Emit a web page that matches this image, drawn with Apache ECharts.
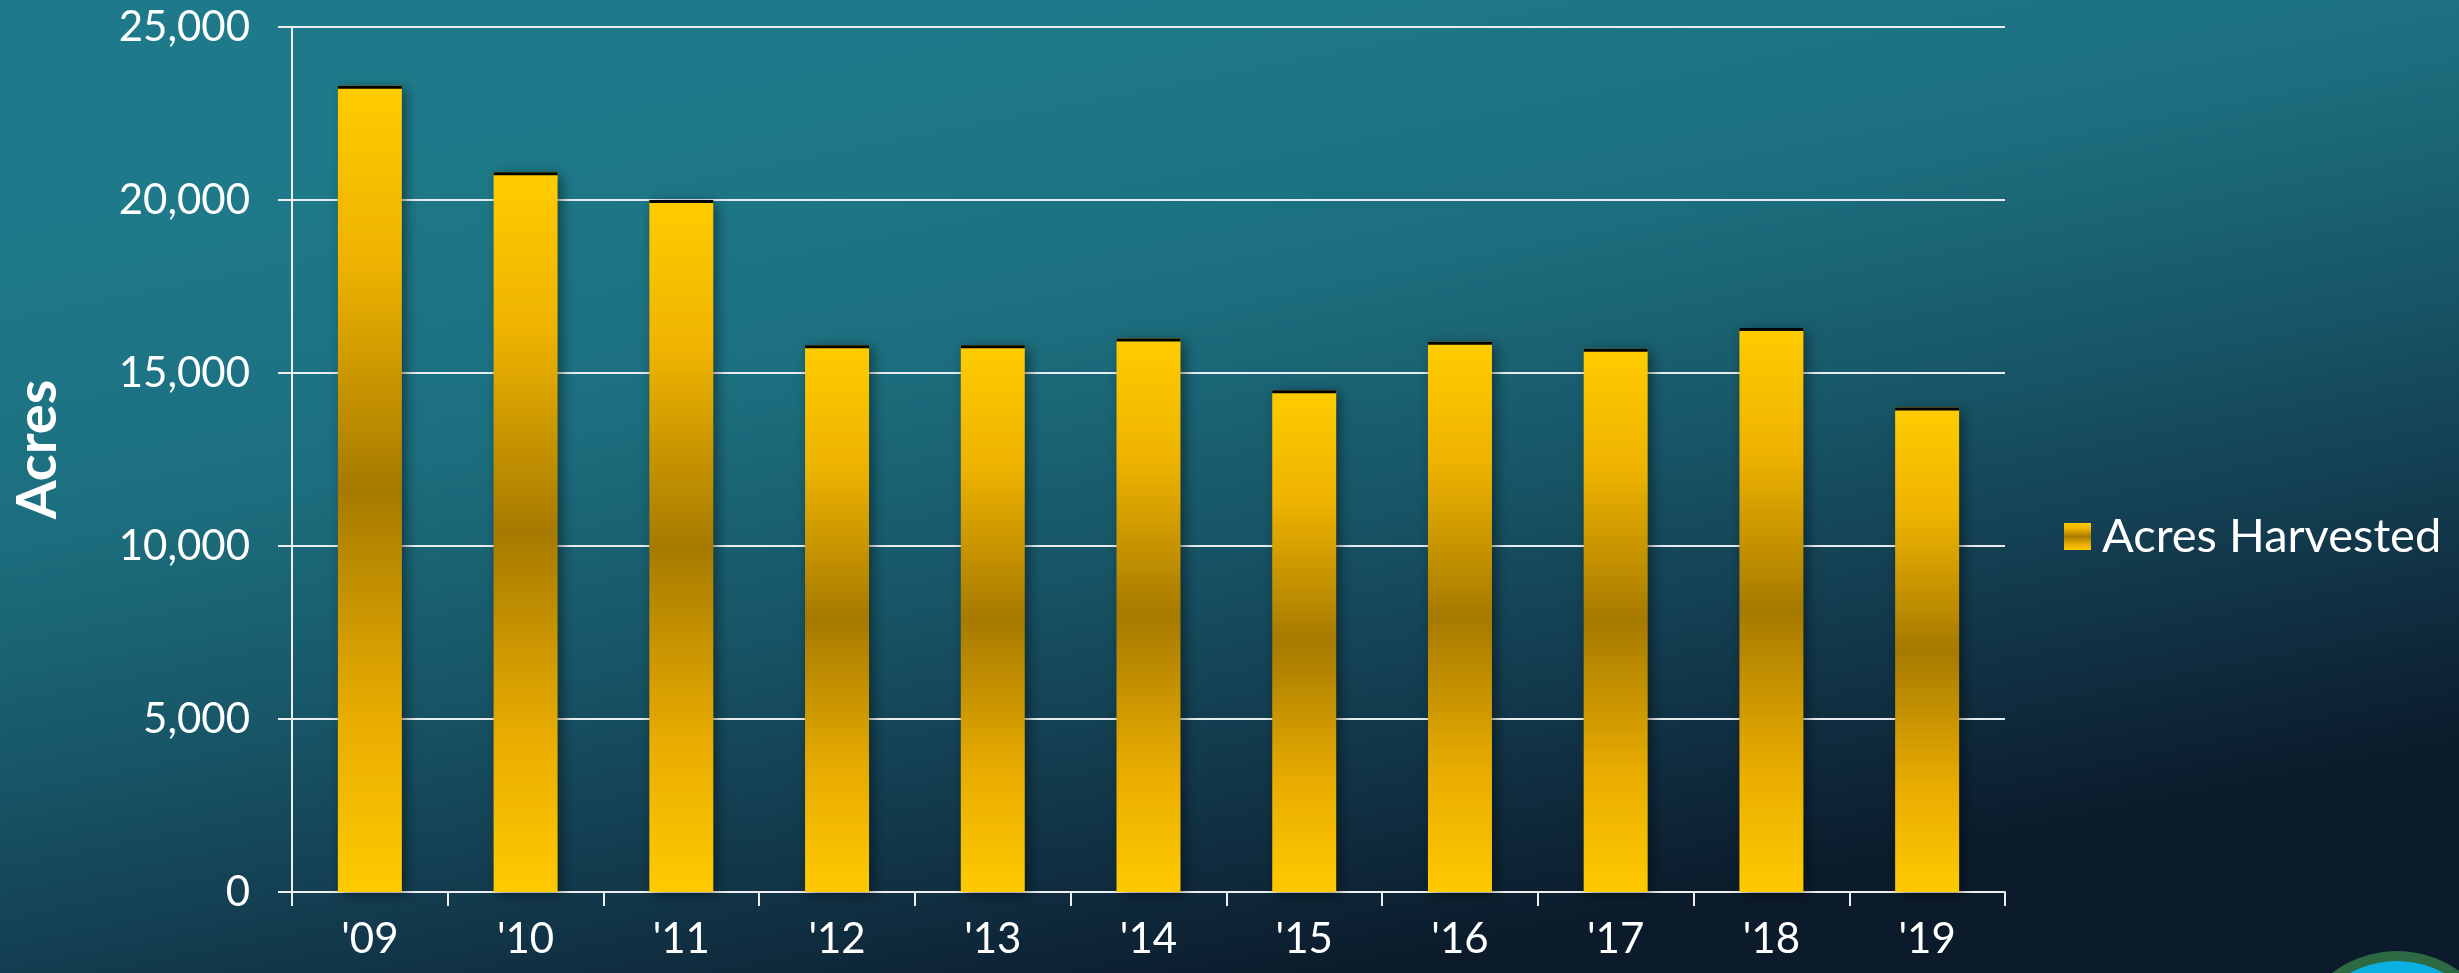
<!DOCTYPE html>
<html>
<head>
<meta charset="utf-8">
<script src="https://cdn.jsdelivr.net/npm/echarts@6/dist/echarts.min.js"></script>
<style>
  html, body { margin: 0; padding: 0; background: #0c1c2c; }
  #chart { width: 2459px; height: 973px; }
</style>
</head>
<body>
<div id="chart"></div>
<script>
// Datos del gráfico
var years = ["'09", "'10", "'11", "'12", "'13", "'14", "'15", "'16", "'17", "'18", "'19"];
var acresHarvested = [23300, 20800, 20000, 15800, 15800, 16000, 14500, 15900, 15700, 16300, 14000];
var yTicks = [0, 5000, 10000, 15000, 20000, 25000];

var myChart = echarts.init(document.getElementById('chart'));

var fontFamily = 'Lato, "Noto Sans", sans-serif';

var barGradient = new echarts.graphic.LinearGradient(0, 0, 0, 1, [
  { offset: 0, color: '#ffcc00' },
  { offset: 0.22, color: '#eeb300' },
  { offset: 0.5, color: '#a67a00' },
  { offset: 0.78, color: '#e8ac00' },
  { offset: 1, color: '#ffca00' }
]);

option = {
  animation: false,
  backgroundColor: new echarts.graphic.LinearGradient(0.46, 0, 0.54, 1, [
    { offset: 0, color: '#1e7a8a' },
    { offset: 0.3, color: '#1c6f7f' },
    { offset: 0.55, color: '#175566' },
    { offset: 0.78, color: '#12374a' },
    { offset: 1, color: '#0b1b2b' }
  ]),
  grid: {
    left: 292,
    right: 454,
    top: 27,
    bottom: 81
  },
  legend: {
    data: ['Acres Harvested'],
    left: 2059,
    top: 508,
    orient: 'vertical',
    icon: 'rect',
    itemWidth: 27,
    itemHeight: 27,
    textStyle: {
      color: '#ffffff',
      fontFamily: fontFamily,
      fontSize: 47,
      padding: [0, 0, 0, 6]
    }
  },
  xAxis: {
    type: 'category',
    data: years,
    axisLine: { show: true, lineStyle: { color: '#eeeeee', width: 2 } },
    axisTick: { show: true, length: 14, lineStyle: { color: '#eeeeee', width: 2 } },
    axisLabel: {
      color: '#ffffff',
      fontFamily: fontFamily,
      fontSize: 42,
      margin: 26
    }
  },
  yAxis: {
    type: 'value',
    min: yTicks[0],
    max: yTicks[yTicks.length - 1],
    interval: 5000,
    name: 'Acres',
    nameLocation: 'middle',
    nameGap: 226,
    nameTextStyle: {
      color: '#ffffff',
      fontFamily: fontFamily,
      fontWeight: 'bold',
      fontSize: 56,
      padding: [0, 0, 0, 20]
    },
    axisLine: { show: true, lineStyle: { color: '#eeeeee', width: 2 } },
    axisTick: { show: true, length: 14, lineStyle: { color: '#eeeeee', width: 2 } },
    splitLine: { show: true, lineStyle: { color: '#e8eef0', width: 2 } },
    axisLabel: {
      color: '#ffffff',
      fontFamily: fontFamily,
      fontSize: 42,
      margin: 42,
      formatter: function (v) {
        return v.toLocaleString('en-US');
      }
    }
  },
  graphic: [
    {
      type: 'circle',
      shape: { cx: 2397, cy: 1058, r: 102 },
      style: { fill: '#0bb0e2', stroke: '#2d6a44', lineWidth: 10 },
      z: 0
    }
  ],
  series: [
    {
      name: 'Acres Harvested',
      type: 'bar',
      data: acresHarvested,
      barWidth: 64,
      itemStyle: {
        color: barGradient,
        shadowColor: 'rgba(0, 0, 0, 0.45)',
        shadowBlur: 12,
        shadowOffsetX: 4,
        shadowOffsetY: 3
      },
      z: 2
    },
    {
      // borde negro superior de cada barra
      name: 'topEdge',
      type: 'scatter',
      data: acresHarvested,
      symbol: 'rect',
      symbolSize: [64, 3],
      symbolOffset: [0, 1.5],
      itemStyle: { color: '#000000', opacity: 1 },
      silent: true,
      z: 3
    }
  ]
};

myChart.setOption(option);
</script>
</body>
</html>
